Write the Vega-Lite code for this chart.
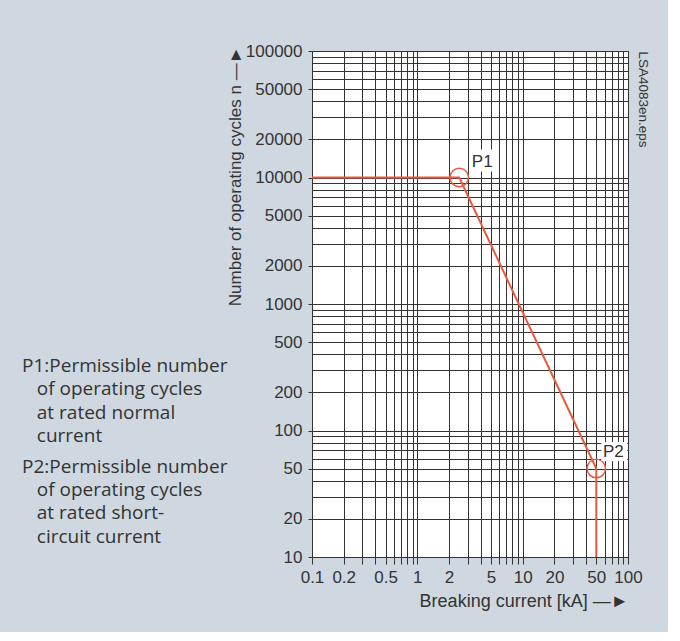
{
  "$schema": "https://vega.github.io/schema/vega-lite/v6.json",
  "width": 316,
  "height": 506,
  "autosize": "none",
  "padding": {"left": 312, "top": 51, "right": 40, "bottom": 75},
  "background": "#cfd8e0",
  "config": {
    "view": {"stroke": "#222", "strokeWidth": 1, "fill": "white"},
    "axis": {"labelFont": "Liberation Sans", "titleFont": "Liberation Sans", "labelColor": "#333", "titleColor": "#333", "titleFontWeight": "normal"}
  },
  "title": {
    "text": ["P1:Permissible number", "\u200b\u00a0\u00a0\u00a0of operating cycles", "\u200b\u00a0\u00a0\u00a0at rated normal", "\u200b\u00a0\u00a0\u00a0current"],
    "subtitle": ["P2:Permissible number", "\u200b\u00a0\u00a0\u00a0of operating cycles", "\u200b\u00a0\u00a0\u00a0at rated short-", "\u200b\u00a0\u00a0\u00a0circuit current"],
    "orient": "bottom",
    "anchor": "start",
    "frame": "group",
    "offset": 0,
    "dx": -290,
    "dy": -253,
    "font": "Open Sans",
    "fontSize": 19,
    "fontWeight": "normal",
    "color": "#333",
    "lineHeight": 23.3,
    "subtitleFont": "Open Sans",
    "subtitleFontSize": 19,
    "subtitleFontWeight": "normal",
    "subtitleColor": "#333",
    "subtitleLineHeight": 23.3,
    "subtitlePadding": 12
  },
  "datasets": {
    "curve": [
      {"i": 1, "current": 0.1, "cycles": 10000},
      {"i": 2, "current": 2.5, "cycles": 10000},
      {"i": 3, "current": 50, "cycles": 50},
      {"i": 4, "current": 50, "cycles": 10}
    ],
    "points": [
      {"label": "P1", "current": 2.5, "cycles": 10000},
      {"label": "P2", "current": 50, "cycles": 50}
    ]
  },
  "resolve": {"axis": {"y": "independent"}},
  "layer": [
    {
      "data": {"name": "curve"},
      "mark": {"type": "line", "color": "#eb5a40", "strokeWidth": 2},
      "encoding": {
        "x": {
          "field": "current", "type": "quantitative",
          "scale": {"type": "log", "domain": [0.1, 100], "nice": false},
          "axis": {
            "values": [0.1,0.2,0.3,0.4,0.5,0.6,0.7,0.8,0.9,1,2,3,4,5,6,7,8,9,10,20,30,40,50,60,70,80,90,100],
            "format": "~g",
            "labelExpr": "indexof([0.1,0.2,0.5,1,2,5,10,20,50,100], datum.value) >= 0 ? datum.label : ''",
            "labelOverlap": false, "labelFlush": false, "labelBound": false,
            "labelFontSize": 17, "labelPadding": 5,
            "tickSize": 7, "tickColor": "#333",
            "domain": false,
            "grid": true, "gridColor": "#333", "gridOpacity": 1, "gridWidth": 1,
            "title": "Breaking current [kA]  —►",
            "titleFontSize": 18, "titleAnchor": "end", "titlePadding": 7
          }
        },
        "y": {
          "field": "cycles", "type": "quantitative",
          "scale": {"type": "log", "domain": [10, 100000], "nice": false},
          "axis": {
            "values": [10,20,30,40,50,60,70,80,90,100,200,300,400,500,600,700,800,900,1000,2000,3000,4000,5000,6000,7000,8000,9000,10000,20000,30000,40000,50000,60000,70000,80000,90000,100000],
            "format": "~g",
            "labelExpr": "indexof([10,20,50,100,200,500,1000,2000,5000,10000,20000,50000,100000], datum.value) >= 0 ? datum.label : ''",
            "labelOverlap": false, "labelFlush": false, "labelBound": false,
            "labelFontSize": 17, "labelPadding": 6,
            "tickSize": 4, "tickColor": "#333",
            "tickOpacity": {"condition": {"test": "indexof([10,20,50,100,200,500,1000,2000,5000,10000,20000,50000,100000], datum.value) >= 0", "value": 1}, "value": 0},
            "domain": false,
            "grid": true, "gridColor": "#333", "gridOpacity": 1, "gridWidth": 1,
            "title": "Number of operating cycles n —►",
            "titleFontSize": 17, "titleAnchor": "end", "titlePadding": 1, "titleY": -5
          }
        },
        "order": {"field": "i"}
      }
    },
    {
      "data": {"name": "points"},
      "mark": {"type": "point", "shape": "circle", "filled": false, "stroke": "#eb5a40", "strokeWidth": 1.5, "size": 340, "opacity": 1},
      "encoding": {
        "x": {"field": "current", "type": "quantitative"},
        "y": {
          "field": "cycles", "type": "quantitative",
          "axis": {
            "orient": "right", "title": "LSA4083en.eps", "titleFontSize": 13.5, "titleAngle": 90,
            "titleAnchor": "end", "titleAlign": "left", "titlePadding": 7,
            "labels": false, "ticks": false, "domain": false, "grid": false
          }
        }
      }
    },
    {
      "data": {"name": "points"},
      "transform": [{"filter": "datum.label === 'P1'"}],
      "mark": {"type": "rect", "color": "white", "width": 26, "height": 22, "xOffset": 23, "yOffset": -17},
      "encoding": {
        "x": {"field": "current", "type": "quantitative"},
        "y": {"field": "cycles", "type": "quantitative", "axis": null}
      }
    },
    {
      "data": {"name": "points"},
      "transform": [{"filter": "datum.label === 'P2'"}],
      "mark": {"type": "rect", "color": "white", "width": 26, "height": 19, "xOffset": 18, "yOffset": -17},
      "encoding": {
        "x": {"field": "current", "type": "quantitative"},
        "y": {"field": "cycles", "type": "quantitative", "axis": null}
      }
    },
    {
      "data": {"name": "points"},
      "transform": [{"filter": "datum.label === 'P1'"}],
      "mark": {"type": "text", "font": "Liberation Sans", "fontSize": 17, "color": "#333", "align": "center", "baseline": "middle", "dx": 23, "dy": -16},
      "encoding": {
        "x": {"field": "current", "type": "quantitative"},
        "y": {"field": "cycles", "type": "quantitative", "axis": null},
        "text": {"field": "label"}
      }
    },
    {
      "data": {"name": "points"},
      "transform": [{"filter": "datum.label === 'P2'"}],
      "mark": {"type": "text", "font": "Liberation Sans", "fontSize": 17, "color": "#333", "align": "center", "baseline": "middle", "dx": 17, "dy": -17},
      "encoding": {
        "x": {"field": "current", "type": "quantitative"},
        "y": {"field": "cycles", "type": "quantitative", "axis": null},
        "text": {"field": "label"}
      }
    }
  ]
}
